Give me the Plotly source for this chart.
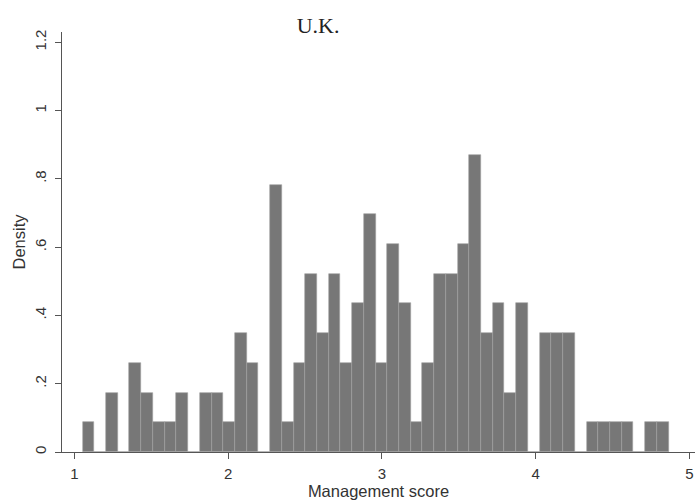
import plotly.graph_objects as go

# Histogram
bin_start = 1.054
bin_width = 0.0762
densities = [
    0.087, 0.0, 0.174, 0.0, 0.261, 0.174, 0.087, 0.087, 0.174, 0.0,
    0.174, 0.174, 0.087, 0.348, 0.261, 0.0, 0.783, 0.087, 0.261, 0.522,
    0.348, 0.522, 0.261, 0.435, 0.696, 0.261, 0.609, 0.435, 0.087, 0.261,
    0.522, 0.522, 0.609, 0.870, 0.348, 0.435, 0.174, 0.435, 0.0, 0.348,
    0.348, 0.348, 0.0, 0.087, 0.087, 0.087, 0.087, 0.0, 0.087, 0.087,
]
x_ticks = [1, 2, 3, 4, 5]
y_ticks = [0, 0.2, 0.4, 0.6, 0.8, 1.0, 1.2]
y_ticktext = ["0", ".2", ".4", ".6", ".8", "1", "1.2"]

centers = [bin_start + (i + 0.5) * bin_width for i in range(len(densities))]

fig = go.Figure(go.Bar(
    x=centers, y=densities, width=bin_width,
    marker=dict(color="#777777", line=dict(color="#a0a0a0", width=0.6)),
    hoverinfo="x+y",
))

axis_font = dict(family="Liberation Sans, Arial, sans-serif", size=15, color="#333")
title_font = dict(family="Liberation Sans, Arial, sans-serif", size=16.5, color="#333")
fig.update_layout(
    width=695, height=500,
    margin=dict(l=62, r=0, t=32, b=48, autoexpand=False),
    paper_bgcolor="white", plot_bgcolor="white",
    showlegend=False, bargap=0,
    title=dict(text="U.K.", x=0.4576, xanchor="center", xref="container",
               y=0.95, yref="container", yanchor="middle",
               font=dict(family="Liberation Serif, Times New Roman, serif", size=22, color="#222")),
    font=axis_font,
)
fig.update_xaxes(
    range=[0.92, 5.036], showgrid=False, zeroline=False, automargin=False,
    showline=True, linecolor="#555", linewidth=1,
    ticks="outside", ticklen=6, tickcolor="#555", ticklabelstandoff=2,
    ticklabeloverflow="allow",
    tickvals=x_ticks, tickfont=axis_font,
    title=dict(text="Management score", standoff=2, font=title_font),
)
fig.update_yaxes(
    range=[0, 1.23], showgrid=False, zeroline=False, automargin=False,
    showline=True, linecolor="#555", linewidth=1,
    ticks="outside", ticklen=6, tickcolor="#555", ticklabelstandoff=3,
    tickvals=y_ticks, ticktext=y_ticktext, tickangle=-90, tickfont=axis_font,
    title=dict(text="Density", standoff=2, font=title_font),
)

fig.write_html(
    "out.html",
    config={"displayModeBar": False},
    post_script="document.body.style.margin='0';document.body.style.overflow='hidden';",
)
